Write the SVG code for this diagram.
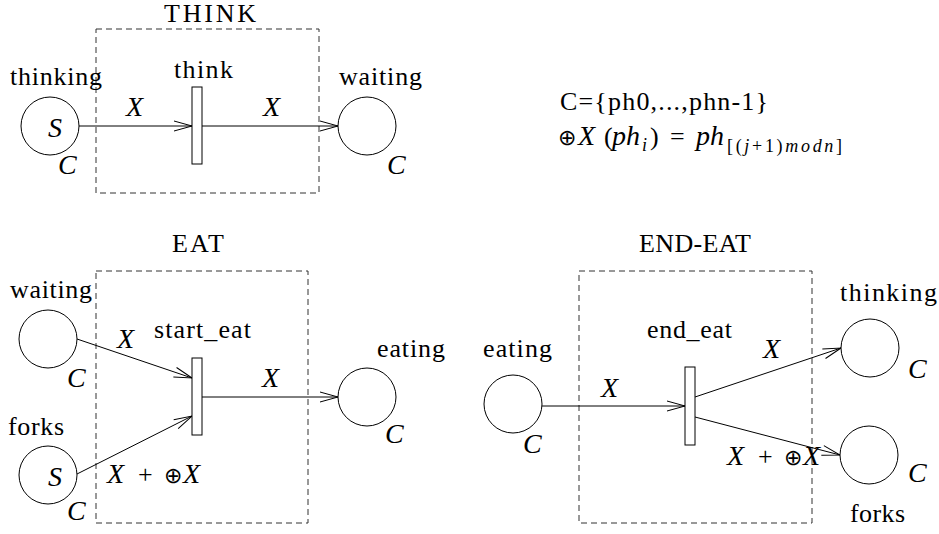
<svg xmlns="http://www.w3.org/2000/svg" width="939" height="534" viewBox="0 0 939 534">
<style>
text{font-family:'Liberation Serif','DejaVu Serif',serif;font-size:26px;fill:#000}
.m{font-style:italic;font-size:28px}
.o{font-family:'DejaVu Sans',sans-serif;font-size:22px;font-weight:300}
.p{fill:#fff;stroke:#000;stroke-width:1}
.tr{fill:#fff;stroke:#000;stroke-width:1}
.b{fill:none;stroke:#333;stroke-width:1;stroke-dasharray:6 4}
.a{fill:none;stroke:#000;stroke-width:1;marker-end:url(#ah)}
.s{font-size:18px}
.ms{font-style:italic;font-size:18px}
</style>
<defs>
<marker id="ah" markerUnits="userSpaceOnUse" markerWidth="20" markerHeight="14" viewBox="0 0 20 14" refX="19" refY="7" orient="auto">
<path d="M1,2 L19,7 L1,12" fill="none" stroke="#000" stroke-width="1"/>
</marker>
</defs>
<rect width="939" height="534" fill="#fff"/>

<g id="boxes">
<rect class="b" x="96" y="29" width="223" height="164"/>
<text x="164" y="22" textLength="92">THINK</text>
<rect class="b" x="96" y="271" width="212" height="252"/>
<text x="172" y="252" textLength="52">EAT</text>
<rect class="b" x="579" y="271" width="233" height="252"/>
<text x="639" y="252" textLength="112">END-EAT</text>
</g>

<g id="connectors">
<line class="a" x1="79" y1="126" x2="192" y2="126"/>
<line class="a" x1="202" y1="126" x2="338" y2="126"/>
<line class="a" x1="77" y1="339" x2="192" y2="378"/>
<line class="a" x1="77" y1="474" x2="192" y2="416"/>
<line class="a" x1="202" y1="397" x2="338" y2="397"/>
<line class="a" x1="542" y1="406" x2="685" y2="406"/>
<line class="a" x1="695" y1="397" x2="841" y2="348"/>
<line class="a" x1="695" y1="417" x2="840" y2="455"/>
<text class="m" x="126" y="116">X</text>
<text class="m" x="263" y="116">X</text>
<text class="m" x="117" y="348">X</text>
<text x="107" y="483"><tspan class="m">X</tspan><tspan x="138">+</tspan><tspan class="o" x="164">⊕</tspan><tspan class="m" x="183">X</tspan></text>
<text class="m" x="262" y="387">X</text>
<text class="m" x="601" y="397">X</text>
<text class="m" x="763" y="358">X</text>
<text x="727" y="465"><tspan class="m">X</tspan><tspan x="758">+</tspan><tspan class="o" x="784">⊕</tspan><tspan class="m" x="803">X</tspan></text>
</g>

<g id="p-thinking1">
<circle class="p" cx="50" cy="126" r="29"/>
<text x="10" y="85" textLength="92">thinking</text>
<text class="m" x="48" y="137">S</text>
<text class="m" x="58" y="174">C</text>
</g>
<g id="t-think">
<rect class="tr" x="192" y="87" width="10" height="77"/>
<text x="174" y="78" textLength="59">think</text>
</g>
<g id="p-waiting1">
<circle class="p" cx="367" cy="126" r="29"/>
<text x="339" y="85" textLength="83">waiting</text>
<text class="m" x="387" y="174">C</text>
</g>

<g id="formula">
<text x="560" y="110" textLength="208">C={ph0,...,phn-1}</text>
<text y="145"><tspan class="o" x="558">⊕</tspan><tspan class="m" x="578">X</tspan><tspan x="604">(</tspan><tspan class="m" x="612">ph</tspan><tspan class="ms" x="642" y="151">i</tspan><tspan x="650" y="145">)</tspan><tspan x="670">=</tspan><tspan class="m" x="696">ph</tspan><tspan class="s" x="727" y="152" textLength="115">[(<tspan class="ms">j</tspan>+1)<tspan class="ms">modn</tspan>]</tspan></text>
</g>

<g id="p-waiting2">
<circle class="p" cx="48" cy="339" r="29"/>
<text x="10" y="298" textLength="82">waiting</text>
<text class="m" x="67" y="387">C</text>
</g>
<g id="p-forks1">
<circle class="p" cx="48" cy="475" r="29"/>
<text x="8" y="435" textLength="56">forks</text>
<text class="m" x="48" y="486">S</text>
<text class="m" x="67" y="520">C</text>
</g>
<g id="t-start_eat">
<rect class="tr" x="192" y="358" width="10" height="77"/>
<text x="154" y="338" textLength="97">start_eat</text>
</g>
<g id="p-eating1">
<circle class="p" cx="367" cy="397" r="29"/>
<text x="377" y="357" textLength="68">eating</text>
<text class="m" x="385" y="443">C</text>
</g>

<g id="p-eating2">
<circle class="p" cx="513" cy="404" r="29"/>
<text x="483" y="357" textLength="69">eating</text>
<text class="m" x="523" y="453">C</text>
</g>
<g id="t-end_eat">
<rect class="tr" x="685" y="367" width="10" height="78"/>
<text x="647" y="338" textLength="85">end_eat</text>
</g>
<g id="p-thinking2">
<circle class="p" cx="870" cy="348" r="29"/>
<text x="840" y="301" textLength="97">thinking</text>
<text class="m" x="908" y="378">C</text>
</g>
<g id="p-forks2">
<circle class="p" cx="869" cy="455" r="29"/>
<text x="850" y="522" textLength="55">forks</text>
<text class="m" x="908" y="482">C</text>
</g>
</svg>
